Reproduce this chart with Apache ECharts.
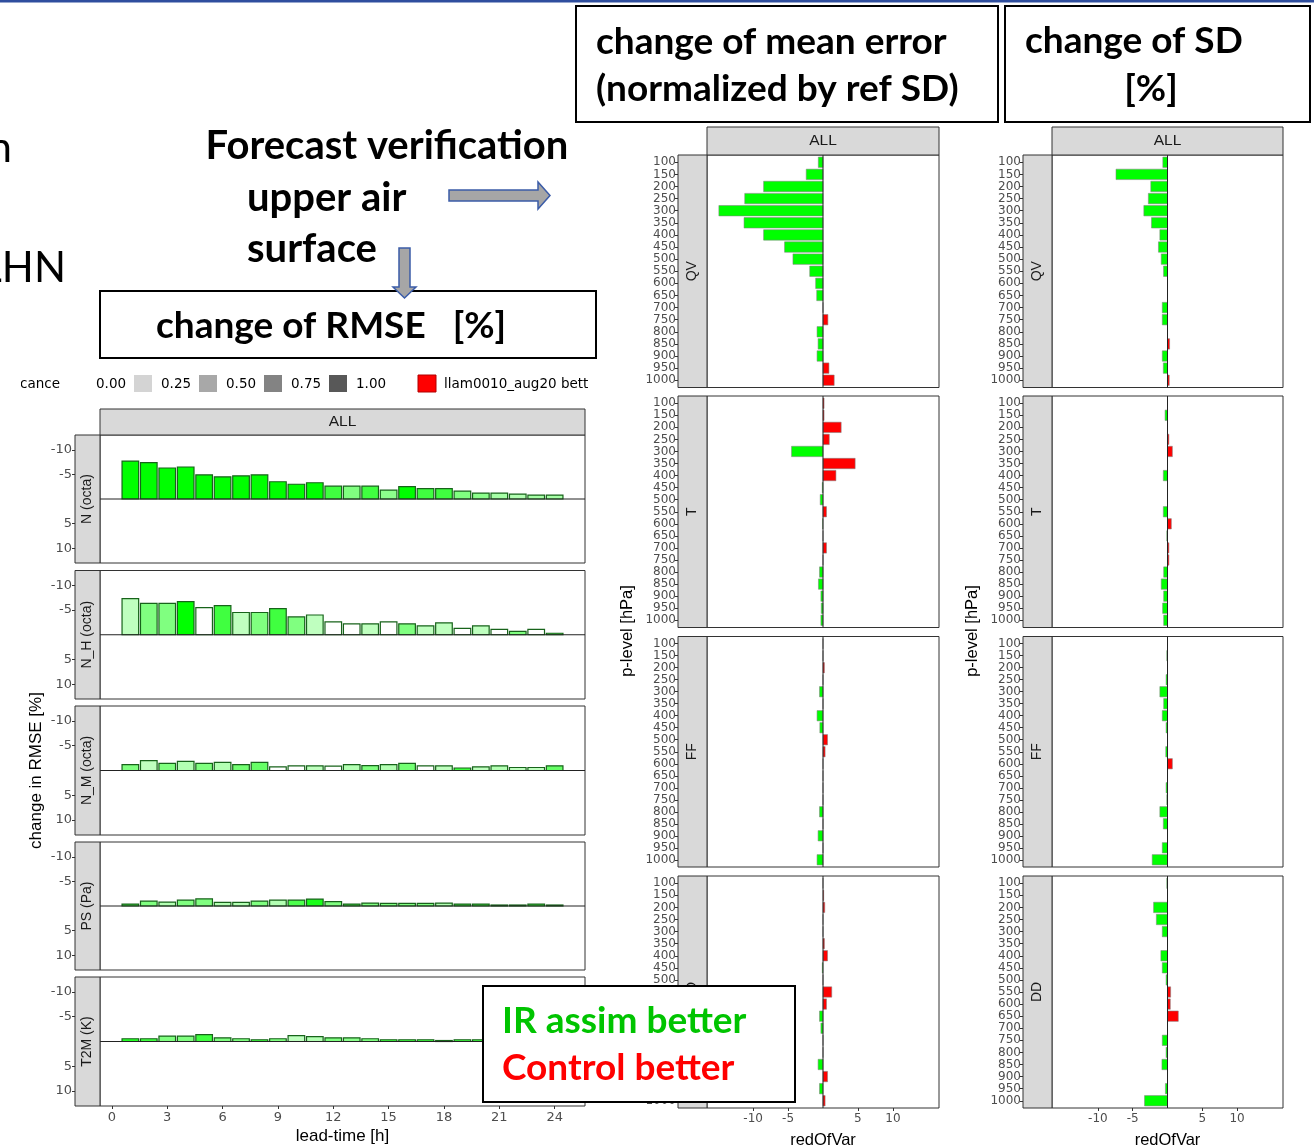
<!DOCTYPE html>
<html>
<head>
<meta charset="utf-8">
<script src="https://cdn.jsdelivr.net/npm/echarts@6/dist/echarts.min.js"></script>
<style>
  html, body { margin: 0; padding: 0; background: #fff; }
  #chart { width: 1314px; height: 1148px; }
</style>
</head>
<body>
<div id="chart"></div>
<script>
// ---------- surface verification: change of RMSE [%] by lead time ----------
const leadTimes = [1, 2, 3, 4, 5, 6, 7, 8, 9, 10, 11, 12, 13, 14, 15, 16, 17, 18, 19, 20, 21, 22, 23, 24];
const leadTicks = [0, 3, 6, 9, 12, 15, 18, 21, 24];
const rmseTicks = [-10, -5, 5, 10];

const rmseN   = [-7.7, -7.4, -6.3, -6.5, -4.9, -4.5, -4.7, -4.9, -3.5, -3.0, -3.3, -2.6, -2.6, -2.6, -1.8, -2.5, -2.1, -2.1, -1.6, -1.2, -1.2, -1.0, -0.8, -0.8];
const sigN    = [1, 1, 1, 1, 1, 1, 1, 1, 1, 1, 1, 0.75, 0.5, 0.75, 0.45, 1, 0.75, 0.75, 0.5, 0.45, 0.35, 0.3, 0.35, 0.35];
const rmseNH  = [-7.3, -6.35, -6.35, -6.7, -5.5, -5.9, -4.5, -4.5, -5.3, -3.6, -4.0, -2.6, -2.2, -2.2, -2.6, -2.2, -1.8, -2.4, -1.3, -1.8, -1.1, -0.7, -1.1, -0.3];
const sigNH   = [0.25, 0.5, 0.5, 1, 0, 0.75, 0.25, 0.5, 0.75, 0.5, 0.25, 0, 0, 0.25, 0, 0.5, 0.25, 0.25, 0, 0.25, 0, 0.5, 0, 0.75];
const rmseNM  = [-1.2, -2.0, -1.45, -1.85, -1.45, -1.65, -1.2, -1.65, -0.75, -0.95, -0.95, -0.9, -1.2, -1.0, -1.2, -1.45, -0.95, -0.95, -0.5, -0.75, -0.95, -0.6, -0.6, -0.95];
const sigNM   = [0.5, 0.25, 0.5, 0.3, 0.5, 0.3, 0.55, 0.6, 0, 0, 0.25, 0, 0.3, 0.5, 0.3, 0.55, 0, 0.25, 0.75, 0.25, 0.3, 0.25, 0.25, 0.6];
const rmsePS  = [-0.4, -1.0, -0.8, -1.2, -1.45, -0.75, -0.75, -1.0, -1.2, -1.2, -1.4, -0.9, -0.4, -0.6, -0.55, -0.55, -0.55, -0.6, -0.4, -0.4, -0.2, -0.2, -0.4, -0.2];
const sigPS   = [0.75, 0.5, 0.3, 0.5, 0.5, 0.3, 0.3, 0.5, 0.3, 0.7, 0.9, 0.5, 0.75, 0.5, 0.5, 0.5, 0.5, 0.3, 0.75, 0.75, 0.75, 0.75, 0.75, 0.75];
const rmseT2M = [-0.55, -0.55, -1.1, -1.1, -1.4, -0.75, -0.55, -0.35, -0.55, -1.2, -1.0, -0.75, -0.75, -0.55, -0.35, -0.35, -0.35, -0.2, -0.35, -0.35, -0.3, -0.3, -0.3, -0.3];
const sigT2M  = [0.85, 0.75, 0.5, 0.5, 0.75, 0.5, 0.5, 0.75, 0.5, 0.25, 0.3, 0.5, 0.45, 0.5, 0.75, 0.75, 0.75, 0.75, 0.75, 0.75, 0.75, 0.75, 0.75, 0.75];

// ---------- upper air verification by pressure level (redOfVar) ----------
const pLevels = [100, 150, 200, 250, 300, 350, 400, 450, 500, 550, 600, 650, 700, 750, 800, 850, 900, 950, 1000];
const redTicks = [-10, -5, 5, 10];

// change of mean error (normalized by ref SD)
const meQV = [-0.67, -2.4, -8.5, -11.2, -14.9, -11.3, -8.5, -5.5, -4.3, -1.9, -1.05, -0.9, 0, 0.7, -0.85, -0.7, -0.85, 0.85, 1.6];
const meT  = [0.15, 0.15, 2.6, 0.9, -4.5, 4.6, 1.85, -0.1, -0.4, 0.5, -0.05, 0, 0.5, 0, -0.5, -0.65, -0.3, -0.25, -0.3];
const meFF = [0, 0, 0.2, 0, -0.5, 0, -0.85, -0.45, 0.65, 0.3, 0, 0, 0, 0, -0.5, 0, -0.7, 0, -0.85];
const meDD = [0, 0.1, 0.25, 0, 0, 0.2, 0.65, -0.1, 0, 1.25, 0.5, -0.5, -0.3, 0, 0, -0.7, 0.65, -0.5, 0.3];

// change of SD [%]
const sdQV = [-0.67, -7.4, -2.4, -2.75, -3.4, -2.3, -1.1, -1.3, -0.9, -0.57, 0, 0, -0.75, -0.75, 0, 0.3, -0.75, -0.6, 0.25];
const sdT  = [0, -0.35, 0, 0.2, 0.7, 0, -0.6, 0, 0, -0.6, 0.55, -0.1, 0.2, 0.2, -0.55, -0.9, -0.55, -0.7, -0.55];
const sdFF = [0, -0.1, 0, -0.2, -1.1, -0.55, -0.75, -0.2, 0, -0.25, 0.7, 0, -0.2, -0.1, -1.1, -0.6, 0, -0.75, -2.2];
const sdDD = [-0.1, 0, -2.0, -1.6, -0.75, 0, -0.95, -0.75, -0.2, 0.45, 0.4, 1.55, 0, -0.75, -0.2, -0.8, 0, -0.3, -3.3];

// ---------- layout ----------
const LEAD_MIN = -0.645, LEAD_MAX = 25.645, RMSE_LIM = 13;
const RED_LIM = 16.6, LEVEL_PAD = 0.6;
const TICK_FONT = 'DejaVu Sans';
const TEXT_FONT = 'Liberation Sans';
const STRIP_FILL = '#d9d9d9', FRAME = '#333333';

const leftPanels = [
  { label: 'N (octa)',   values: rmseN,   sig: sigN,   top: 435,   height: 128 },
  { label: 'N_H (octa)', values: rmseNH,  sig: sigNH,  top: 570.5, height: 128.5 },
  { label: 'N_M (octa)', values: rmseNM,  sig: sigNM,  top: 706,   height: 129 },
  { label: 'PS (Pa)',    values: rmsePS,  sig: sigPS,  top: 842,   height: 128 },
  { label: 'T2M (K)',    values: rmseT2M, sig: sigT2M, top: 977,   height: 129 }
];
const LEFT_X = 100, LEFT_W = 485, LEFT_STRIP = 25;

const levelRows = [
  { label: 'QV', top: 155,   height: 232.5 },
  { label: 'T',  top: 396,   height: 231.5 },
  { label: 'FF', top: 636.5, height: 230.5 },
  { label: 'DD', top: 876,   height: 232 }
];
const levelCols = [
  { left: 707,  width: 232, series: [meQV, meT, meFF, meDD] },
  { left: 1052, width: 231, series: [sdQV, sdT, sdFF, sdDD] }
];
const LEVEL_STRIP = 29;

function greenShade(a) {
  const c = Math.round(255 * (1 - a));
  return 'rgb(' + c + ',255,' + c + ')';
}
function redShade(a) {
  const c = Math.round(255 * (1 - a));
  return 'rgb(255,' + c + ',' + c + ')';
}

// bars of the lead-time panels: [leadTime, change, significance]
function renderLeadBar(params, api) {
  const t = api.value(0), v = api.value(1), a = api.value(2);
  const p0 = api.coord([t - 0.45, 0]);
  const p1 = api.coord([t + 0.45, v]);
  return {
    type: 'rect',
    shape: { x: p0[0], y: Math.min(p0[1], p1[1]), width: p1[0] - p0[0], height: Math.abs(p1[1] - p0[1]) },
    style: { fill: v <= 0 ? greenShade(a) : redShade(a), stroke: v <= 0 ? '#17631a' : '#7a1010', lineWidth: 1.2 }
  };
}
// bars of the pressure-level panels: [value, levelIndex]
function renderLevelBar(params, api) {
  const v = api.value(0), i = api.value(1);
  const p0 = api.coord([0, i - 0.43]);
  const p1 = api.coord([v, i + 0.43]);
  return {
    type: 'rect',
    shape: { x: Math.min(p0[0], p1[0]), y: Math.min(p0[1], p1[1]), width: Math.abs(p1[0] - p0[0]), height: Math.abs(p1[1] - p0[1]) },
    style: { fill: v <= 0 ? '#00ff00' : '#ff0000', stroke: 'rgba(130,130,130,0.55)', lineWidth: 1 }
  };
}

const grids = [], xAxes = [], yAxes = [], series = [], graphics = [];

function stripRect(x, y, w, h) {
  graphics.push({ type: 'rect', z: 5, shape: { x: x, y: y, width: w, height: h },
    style: { fill: STRIP_FILL, stroke: FRAME, lineWidth: 1 } });
}
function text(x, y, str, font, color, align, rot, z) {
  graphics.push({ type: 'text', z: z || 6, x: x, y: y, rotation: rot || 0,
    style: { text: str, font: font, fill: color || '#1a1a1a', textAlign: align || 'center', textVerticalAlign: 'middle' } });
}
const hiddenLine = { show: false, onZero: false };

// ---- lead-time panels ----
leftPanels.forEach(function (p, k) {
  const gi = grids.length;
  const isBottom = k === leftPanels.length - 1;
  grids.push({ left: LEFT_X, top: p.top, width: LEFT_W, height: p.height, show: true,
    backgroundColor: '#fff', borderColor: FRAME, borderWidth: 1 });
  xAxes.push({ gridIndex: gi, type: 'value', min: LEAD_MIN, max: LEAD_MAX,
    axisLine: hiddenLine, splitLine: { show: false },
    axisTick: { show: isBottom, customValues: leadTicks, length: 3, lineStyle: { color: FRAME } },
    axisLabel: { show: isBottom, customValues: leadTicks, color: '#4d4d4d', fontSize: 13, fontFamily: TICK_FONT, margin: 5 } });
  yAxes.push({ gridIndex: gi, type: 'value', inverse: true, min: -RMSE_LIM, max: RMSE_LIM, offset: LEFT_STRIP,
    axisLine: hiddenLine, splitLine: { show: false },
    axisTick: { show: true, customValues: rmseTicks, length: 3, lineStyle: { color: FRAME } },
    axisLabel: { customValues: rmseTicks, color: '#4d4d4d', fontSize: 13, fontFamily: TICK_FONT, margin: 3 } });
  series.push({ type: 'custom', xAxisIndex: gi, yAxisIndex: gi, renderItem: renderLeadBar,
    encode: { x: 0, y: 1 }, silent: true,
    data: leadTimes.map(function (t, i) { return [t, p.values[i], p.sig[i]]; }) });
  series.push({ type: 'line', xAxisIndex: gi, yAxisIndex: gi, symbol: 'none', silent: true, z: 3,
    lineStyle: { color: '#222', width: 1 }, data: [[LEAD_MIN, 0], [LEAD_MAX, 0]] });
  stripRect(LEFT_X - LEFT_STRIP, p.top, LEFT_STRIP, p.height);
  text(LEFT_X - LEFT_STRIP / 2, p.top + p.height / 2, p.label, '14px ' + TEXT_FONT, '#1a1a1a', 'center', Math.PI / 2);
});
stripRect(LEFT_X, 409, LEFT_W, 26);
text(LEFT_X + LEFT_W / 2, 422, 'ALL', '15.5px ' + TEXT_FONT);
text(36, 770.5, 'change in RMSE [%]', '17px ' + TEXT_FONT, '#000', 'center', Math.PI / 2);
text(LEFT_X + LEFT_W / 2, 1136, 'lead-time [h]', '17px ' + TEXT_FONT, '#000');

// ---- pressure-level panels ----
const levelIdx = pLevels.map(function (_, i) { return i; });
levelCols.forEach(function (col) {
  levelRows.forEach(function (row, r) {
    const gi = grids.length;
    const isBottom = r === levelRows.length - 1;
    const vals = col.series[r];
    grids.push({ left: col.left, top: row.top, width: col.width, height: row.height, show: true,
      backgroundColor: '#fff', borderColor: FRAME, borderWidth: 1 });
    xAxes.push({ gridIndex: gi, type: 'value', min: -RED_LIM, max: RED_LIM,
      axisLine: hiddenLine, splitLine: { show: false },
      axisTick: { show: isBottom, customValues: redTicks, length: 3, lineStyle: { color: FRAME } },
      axisLabel: { show: isBottom, customValues: redTicks, color: '#4d4d4d', fontSize: 12, fontFamily: TICK_FONT, margin: 5 } });
    yAxes.push({ gridIndex: gi, type: 'value', inverse: true, min: -LEVEL_PAD, max: pLevels.length - 1 + LEVEL_PAD,
      offset: LEVEL_STRIP, axisLine: hiddenLine, splitLine: { show: false },
      axisTick: { show: true, customValues: levelIdx, length: 3, lineStyle: { color: FRAME } },
      axisLabel: { customValues: levelIdx, color: '#4d4d4d', fontSize: 12, fontFamily: TICK_FONT, margin: 2,
        formatter: function (v) { return String(pLevels[Math.round(v)]); } } });
    series.push({ type: 'custom', xAxisIndex: gi, yAxisIndex: gi, renderItem: renderLevelBar,
      encode: { x: 0, y: 1 }, silent: true,
      data: vals.map(function (v, i) { return [v, i]; }) });
    series.push({ type: 'line', xAxisIndex: gi, yAxisIndex: gi, symbol: 'none', silent: true, z: 3,
      lineStyle: { color: '#222', width: 1 }, data: [[0, -LEVEL_PAD], [0, pLevels.length - 1 + LEVEL_PAD]] });
    stripRect(col.left - LEVEL_STRIP, row.top, LEVEL_STRIP, row.height);
    text(col.left - LEVEL_STRIP / 2, row.top + row.height / 2, row.label, '14px ' + TEXT_FONT, '#1a1a1a', 'center', Math.PI / 2);
  });
  stripRect(col.left, 127, col.width, 28);
  text(col.left + col.width / 2, 141, 'ALL', '15.5px ' + TEXT_FONT);
  text(col.left + col.width / 2, 1140, 'redOfVar', '16.5px ' + TEXT_FONT, '#000');
  text(col.left - 80, 631, 'p-level [hPa]', '16.5px ' + TEXT_FONT, '#000', 'center', Math.PI / 2);
});

// ---- legend row (significance shading) ----
text(60, 384, 'significance', '13.5px ' + TICK_FONT, '#000', 'right');
graphics.push({ type: 'rect', z: 7, shape: { x: 0, y: 372, width: 21, height: 24 }, style: { fill: '#fff' } });
const legendKeys = [
  { label: '0.00', x: 96,  key: null },
  { label: '0.25', x: 161, key: '#d4d4d4' },
  { label: '0.50', x: 226, key: '#a8a8a8' },
  { label: '0.75', x: 291, key: '#838383' },
  { label: '1.00', x: 356, key: '#585858' }
];
legendKeys.forEach(function (k) {
  if (k.key) graphics.push({ type: 'rect', z: 6, shape: { x: k.x - 27, y: 375, width: 18, height: 17 }, style: { fill: k.key } });
  text(k.x, 384, k.label, '13.5px ' + TICK_FONT, '#000', 'left');
});
graphics.push({ type: 'rect', z: 6, shape: { x: 418, y: 375, width: 18, height: 17 }, style: { fill: '#ff0000', stroke: '#b00000', lineWidth: 1 } });
text(444, 384, 'llam0010_aug20 bett', '13.5px ' + TICK_FONT, '#000', 'left');

// ---- slide annotations ----
const BOLD = '700 37px Lato';
const BOLD_L = '700 40px Lato';
graphics.push({ type: 'rect', z: 20, shape: { x: 0, y: 0, width: 1314, height: 2.5 }, style: { fill: '#2f4e9e' } });
text(12, 148, 'n', '400 42px Lato', '#000', 'right', 0, 21);
text(66, 268, 'LHN', '400 42px Lato', '#000', 'right', 0, 21);
text(387, 146, 'Forecast verification', BOLD_L, '#000', 'center', 0, 21);
text(247, 198, 'upper air', BOLD_L, '#000', 'left', 0, 21);
text(247, 249, 'surface', BOLD_L, '#000', 'left', 0, 21);
graphics.push({ type: 'polygon', z: 21,
  shape: { points: [[449, 190], [538, 190], [538, 182], [550, 195.5], [538, 209], [538, 201], [449, 201]] },
  style: { fill: '#a6a6a6', stroke: '#3b5ca8', lineWidth: 1.5 } });
graphics.push({ type: 'polygon', z: 21,
  shape: { points: [[399, 248], [410, 248], [410, 287], [416, 287], [404.5, 298], [393, 287], [399, 287]] },
  style: { fill: '#a6a6a6', stroke: '#3b5ca8', lineWidth: 1.5 } });

function box(x, y, w, h) {
  graphics.push({ type: 'rect', z: 20, shape: { x: x, y: y, width: w, height: h },
    style: { fill: '#fff', stroke: '#000', lineWidth: 2 } });
}
box(100, 291, 496, 67);
text(156, 326, 'change of RMSE   [%]', BOLD, '#000', 'left', 0, 21);
box(576, 6, 422, 116);
text(596, 42, 'change of mean error', BOLD, '#000', 'left', 0, 21);
text(596, 89, '(normalized by ref SD)', BOLD, '#000', 'left', 0, 21);
box(1005, 6, 305, 116);
text(1025, 41, 'change of SD', BOLD, '#000', 'left', 0, 21);
text(1151, 89, '[%]', BOLD, '#000', 'center', 0, 21);
box(483, 986, 312, 116);
text(502, 1021, 'IR assim better', BOLD, '#00c400', 'left', 0, 21);
text(502, 1068, 'Control better', BOLD, '#ff0000', 'left', 0, 21);

const chart = echarts.init(document.getElementById('chart'), null, { renderer: 'canvas' });
chart.setOption({
  animation: false,
  backgroundColor: '#fff',
  grid: grids,
  xAxis: xAxes,
  yAxis: yAxes,
  series: series,
  graphic: { elements: graphics }
});
</script>
</body>
</html>
